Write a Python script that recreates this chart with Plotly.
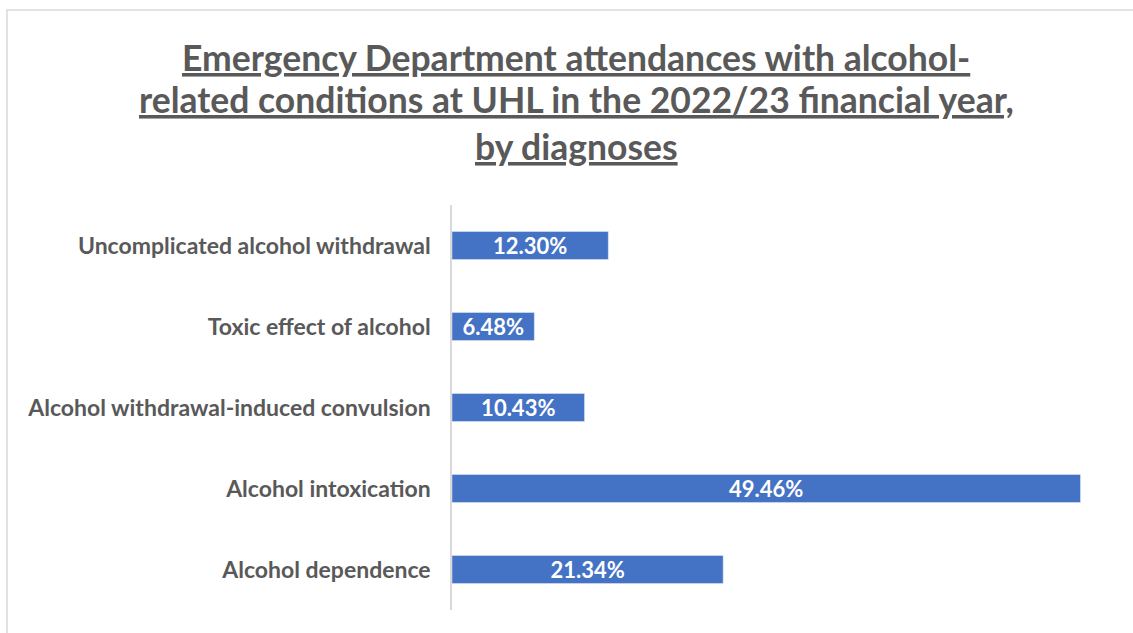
import plotly.graph_objects as go

categories = [
    "Alcohol dependence",
    "Alcohol intoxication",
    "Alcohol withdrawal-induced convulsion",
    "Toxic effect of alcohol",
    "Uncomplicated alcohol withdrawal",
]
values = [21.34, 49.46, 10.43, 6.48, 12.30]
value_labels = ["21.34%", "49.46%", "10.43%", "6.48%", "12.30%"]
title_lines = [
    "Emergency Department attendances with alcohol-",
    "related conditions at UHL in the 2022/23 financial year,",
    "by diagnoses",
]

FONT = "Lato"
GRAY = "#595959"

fig = go.Figure(
    go.Bar(
        x=values,
        y=categories,
        orientation="h",
        text=value_labels,
        textposition="inside",
        insidetextanchor="middle",
        constraintext="none",
        textangle=0,
        textfont=dict(family=FONT, size=22, color="white", weight="bold"),
        marker=dict(color="#4472C4"),
        width=0.345,
        hoverinfo="skip",
    )
)

title_y = [57, 100, 147]
for line, yp in zip(title_lines, title_y):
    fig.add_annotation(
        text="<u>" + line + "</u>",
        xref="paper", yref="paper",
        x=(576 - 452) / (1081 - 452),
        y=1 + (205 - yp) / 405,
        xanchor="center", yanchor="middle",
        showarrow=False,
        font=dict(family=FONT, size=35.5, color=GRAY, weight="bold"),
    )

fig.add_shape(
    type="rect", xref="paper", yref="paper",
    x0=(7 - 452) / 629, x1=(1140 - 452) / 629,
    y0=-(640 - 610) / 405, y1=1 + (205 - 10) / 405,
    line=dict(color="#d9d9d9", width=1.5),
    layer="below",
)

fig.update_layout(
    width=1133, height=633,
    margin=dict(l=452, r=52, t=205, b=23),
    paper_bgcolor="white", plot_bgcolor="white",
    showlegend=False,
    xaxis=dict(range=[0, 49.5], visible=False, fixedrange=True),
    yaxis=dict(
        showline=True, linecolor="#d9d9d9", linewidth=1.5,
        showgrid=False, ticks="", ticklabelstandoff=15,
        tickfont=dict(family=FONT, size=23, color=GRAY, weight="bold"),
    ),
    bargap=0.655,
)

fig.write_html(
    "out.html",
    config={"displayModeBar": False},
    post_script="document.body.style.margin='0';document.body.style.overflow='hidden';",
)
